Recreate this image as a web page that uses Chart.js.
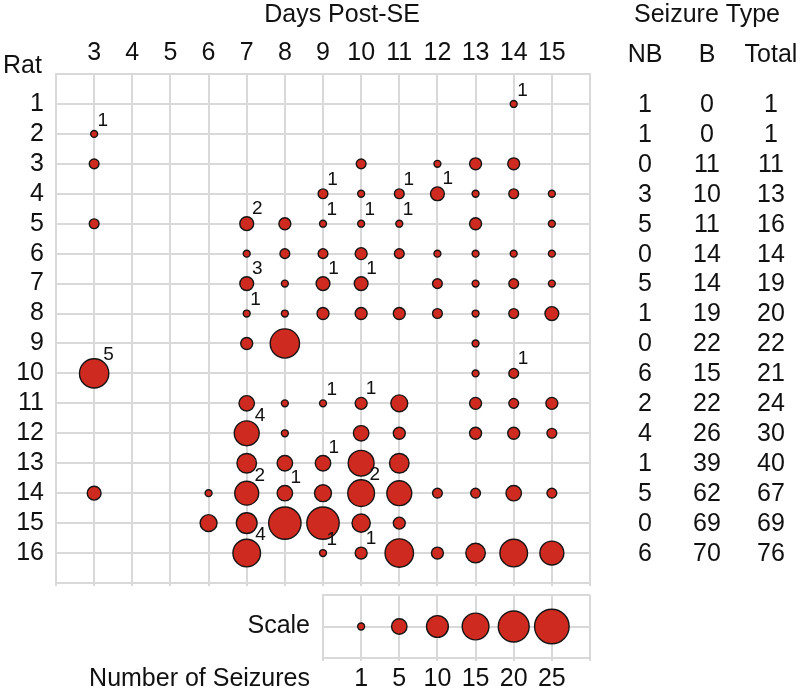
<!DOCTYPE html>
<html>
<head>
<meta charset="utf-8">
<script src="https://cdn.jsdelivr.net/npm/chart.js@4.4.1/dist/chart.umd.min.js"></script>
<style>
  html, body { margin: 0; padding: 0; background: #ffffff; }
  #wrap { position: relative; width: 800px; height: 688px; }
  #wrap canvas { position: absolute; left: 0; top: 0; }
</style>
</head>
<body>
<div id="wrap">
  <canvas id="main" width="800" height="688"></canvas>
  <canvas id="scale" width="800" height="688"></canvas>
</div>
<script>
// ---------- data ----------
const days = [3, 4, 5, 6, 7, 8, 9, 10, 11, 12, 13, 14, 15];
const rats = [1, 2, 3, 4, 5, 6, 7, 8, 9, 10, 11, 12, 13, 14, 15, 16];

// number of seizures per rat (rows) and day post-SE (columns = days)
const seizures = [
  [0, 0, 0, 0, 0, 0, 0, 0, 0, 0, 0, 1, 0],
  [1, 0, 0, 0, 0, 0, 0, 0, 0, 0, 0, 0, 0],
  [2, 0, 0, 0, 0, 0, 0, 2, 0, 1, 3, 3, 0],
  [0, 0, 0, 0, 0, 0, 2, 1, 2, 4, 1, 2, 1],
  [2, 0, 0, 0, 4, 3, 1, 1, 1, 0, 3, 0, 1],
  [0, 0, 0, 0, 1, 2, 2, 3, 2, 1, 1, 1, 1],
  [0, 0, 0, 0, 4, 1, 4, 4, 0, 2, 1, 2, 1],
  [0, 0, 0, 0, 1, 1, 3, 3, 3, 2, 1, 2, 4],
  [0, 0, 0, 0, 3, 18, 0, 0, 0, 0, 1, 0, 0],
  [18, 0, 0, 0, 0, 0, 0, 0, 0, 0, 1, 2, 0],
  [0, 0, 0, 0, 5, 1, 1, 3, 6, 0, 3, 2, 3],
  [0, 0, 0, 0, 13, 1, 0, 5, 3, 0, 3, 3, 2],
  [0, 0, 0, 0, 8, 5, 5, 14, 8, 0, 0, 0, 0],
  [4, 0, 0, 1, 12, 5, 6, 15, 13, 2, 2, 5, 2],
  [0, 0, 0, 6, 9, 22, 22, 7, 3, 0, 0, 0, 0],
  [0, 0, 0, 0, 16, 0, 1, 3, 17, 3, 8, 16, 12]
];

// non-behavioral (NB) seizures shown as numbers beside the bubbles
const nbPerDay = [
  [0, 0, 0, 0, 0, 0, 0, 0, 0, 0, 0, 1, 0],
  [1, 0, 0, 0, 0, 0, 0, 0, 0, 0, 0, 0, 0],
  [0, 0, 0, 0, 0, 0, 0, 0, 0, 0, 0, 0, 0],
  [0, 0, 0, 0, 0, 0, 1, 0, 1, 1, 0, 0, 0],
  [0, 0, 0, 0, 2, 0, 1, 1, 1, 0, 0, 0, 0],
  [0, 0, 0, 0, 0, 0, 0, 0, 0, 0, 0, 0, 0],
  [0, 0, 0, 0, 3, 0, 1, 1, 0, 0, 0, 0, 0],
  [0, 0, 0, 0, 1, 0, 0, 0, 0, 0, 0, 0, 0],
  [0, 0, 0, 0, 0, 0, 0, 0, 0, 0, 0, 0, 0],
  [5, 0, 0, 0, 0, 0, 0, 0, 0, 0, 0, 1, 0],
  [0, 0, 0, 0, 0, 0, 1, 1, 0, 0, 0, 0, 0],
  [0, 0, 0, 0, 4, 0, 0, 0, 0, 0, 0, 0, 0],
  [0, 0, 0, 0, 0, 0, 1, 0, 0, 0, 0, 0, 0],
  [0, 0, 0, 0, 2, 1, 0, 2, 0, 0, 0, 0, 0],
  [0, 0, 0, 0, 0, 0, 0, 0, 0, 0, 0, 0, 0],
  [0, 0, 0, 0, 4, 0, 1, 1, 0, 0, 0, 0, 0]
];

// seizure type table (per rat)
const nbTotals = [1, 1, 0, 3, 5, 0, 5, 1, 0, 6, 2, 4, 1, 5, 0, 6];
const bTotals = [0, 0, 11, 10, 11, 14, 14, 19, 22, 15, 22, 26, 39, 62, 69, 70];
const allTotals = [1, 1, 11, 13, 16, 14, 19, 20, 22, 21, 24, 30, 40, 67, 69, 76];
const tableHeaders = ['NB', 'B', 'Total'];

// bubble size key
const scaleValues = [1, 5, 10, 15, 20, 25];

// texts
const xTitle = 'Days Post-SE';
const yTitle = 'Rat';
const tableTitle = 'Seizure Type';
const scaleLabel = 'Scale';
const scaleTitle = 'Number of Seizures';

// ---------- styling ----------
const FONT = '"Liberation Sans", Arial, Helvetica, sans-serif';
const TEXT = '#111111';
const GRID = '#d9d9d9';
const RED = '#cf2a1f';
const EDGE = '#151515';
const radius = n => 3.45 * Math.sqrt(n);

Chart.defaults.font.family = FONT;
Chart.defaults.color = TEXT;

const bubbles = [];
rats.forEach((rat, i) => days.forEach((day, j) => {
  const n = seizures[i][j];
  if (n > 0) bubbles.push({ x: day, y: rat, r: radius(n) });
}));

const mainText = {
  id: 'mainText',
  afterDatasetsDraw(chart) {
    const { ctx } = chart;
    const x = chart.scales.x, y = chart.scales.y;
    ctx.save();
    ctx.fillStyle = TEXT;
    // NB numbers beside bubbles
    ctx.font = '19px ' + FONT;
    ctx.textAlign = 'center';
    ctx.textBaseline = 'middle';
    rats.forEach((rat, i) => days.forEach((day, j) => {
      const nb = nbPerDay[i][j];
      if (!nb) return;
      const r = radius(seizures[i][j]);
      ctx.fillText(String(nb), x.getPixelForValue(day) + 0.5 * r + 7, y.getPixelForValue(rat) - 0.45 * r - 12);
    }));
    // titles
    ctx.font = '25px ' + FONT;
    ctx.textBaseline = 'alphabetic';
    ctx.textAlign = 'center';
    ctx.fillText(xTitle, 342, 22);
    ctx.fillText(tableTitle, 707, 22);
    ctx.textAlign = 'left';
    ctx.fillText(yTitle, 3, 73);
    // table
    ctx.textAlign = 'center';
    const cols = [645, 707, 771];
    tableHeaders.forEach((h, k) => ctx.fillText(h, cols[k], 62));
    ctx.textBaseline = 'middle';
    rats.forEach((rat, i) => {
      const py = y.getPixelForValue(rat) + 1;
      ctx.fillText(String(nbTotals[i]), cols[0], py);
      ctx.fillText(String(bTotals[i]), cols[1], py);
      ctx.fillText(String(allTotals[i]), cols[2], py);
    });
    ctx.restore();
  }
};

new Chart(document.getElementById('main'), {
  type: 'bubble',
  data: {
    datasets: [{
      data: bubbles,
      backgroundColor: RED,
      borderColor: EDGE,
      borderWidth: 1.4,
      hoverRadius: 0
    }]
  },
  options: {
    responsive: false,
    animation: false,
    events: [],
    layout: { padding: { left: 0, top: 0, right: 210, bottom: 0 } },
    plugins: { legend: { display: false }, tooltip: { enabled: false } },
    scales: {
      x: {
        type: 'linear', position: 'top', min: 2, max: 16,
        ticks: {
          stepSize: 1, autoSkip: false, maxRotation: 0, padding: 6,
          font: { size: 25 },
          callback: v => days.includes(v) ? String(v) : ''
        },
        grid: { color: GRID, lineWidth: 2, drawTicks: false },
        border: { color: GRID, width: 2 },
        afterFit: s => { s.height = 74; }
      },
      x2: {
        type: 'linear', position: 'bottom', min: 2, max: 16,
        ticks: { stepSize: 1, display: false },
        grid: { color: GRID, lineWidth: 2, drawOnChartArea: false, tickLength: 3 },
        border: { color: GRID, width: 2 },
        afterFit: s => { s.height = 105; }
      },
      y: {
        type: 'linear', position: 'left', reverse: true, min: 0, max: 17,
        ticks: {
          stepSize: 1, autoSkip: false, padding: 12,
          font: { size: 25 },
          callback: v => rats.includes(v) ? String(v) : ''
        },
        grid: { color: GRID, lineWidth: 2, drawTicks: false },
        border: { color: GRID, width: 2 },
        afterFit: s => { s.width = 56; }
      }
    }
  },
  plugins: [mainText]
});

const scaleText = {
  id: 'scaleText',
  afterDraw(chart) {
    const { ctx } = chart;
    ctx.save();
    ctx.fillStyle = TEXT;
    ctx.font = '25px ' + FONT;
    ctx.textAlign = 'right';
    ctx.textBaseline = 'alphabetic';
    ctx.fillText(scaleTitle, 310, 686);
    ctx.restore();
  }
};

new Chart(document.getElementById('scale'), {
  type: 'bubble',
  data: {
    datasets: [{
      data: scaleValues.map((n, i) => ({ x: 10 + i, y: 1, r: radius(n) })),
      backgroundColor: RED,
      borderColor: EDGE,
      borderWidth: 1.4,
      hoverRadius: 0
    }]
  },
  options: {
    responsive: false,
    animation: false,
    events: [],
    layout: { padding: { left: 0, top: 595, right: 210, bottom: 0 } },
    plugins: { legend: { display: false }, tooltip: { enabled: false } },
    scales: {
      x: {
        type: 'linear', position: 'bottom', min: 9, max: 16,
        ticks: {
          stepSize: 1, autoSkip: false, maxRotation: 0, padding: 3,
          font: { size: 25 },
          callback: v => (v >= 10 && v < 10 + scaleValues.length) ? String(scaleValues[v - 10]) : ''
        },
        grid: { color: GRID, lineWidth: 2, tickLength: 3 },
        border: { color: GRID, width: 2 },
        afterFit: s => { s.height = 30; }
      },
      y: {
        type: 'linear', position: 'left', min: 0, max: 2,
        ticks: {
          stepSize: 1, autoSkip: false, padding: 13,
          font: { size: 25 },
          callback: v => v === 1 ? scaleLabel : ''
        },
        grid: { color: GRID, lineWidth: 2, drawTicks: false },
        border: { color: GRID, width: 2 },
        afterFit: s => { s.width = 323; }
      }
    }
  },
  plugins: [scaleText]
});
</script>
</body>
</html>
